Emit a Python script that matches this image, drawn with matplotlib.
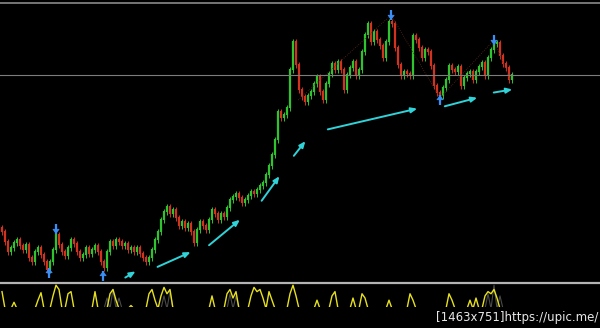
import numpy as np
import matplotlib
matplotlib.use("Agg")
import matplotlib.pyplot as plt

# closing prices, one bar every 3 px
closes = [
    68, 58, 48, 52, 57, 60, 54, 50, 55, 42, 38, 48, 52, 45, 38, 30, 38, 50,
    65, 55, 48, 44, 52, 60, 56, 48, 42, 45, 52, 46, 50, 54, 48, 38, 32, 48,
    58, 54, 60, 58, 54, 56, 50, 52, 48, 52, 46, 42, 38, 42, 50, 60, 68, 80,
    88, 93, 86, 90, 82, 74, 78, 72, 76, 68, 57, 70, 78, 74, 70, 80, 90, 86,
    80, 86, 83, 92, 100, 103, 106, 102, 97, 100, 104, 108, 106, 110, 114, 117,
    125, 134, 145, 160, 188, 182, 185, 192, 230, 258, 235, 210, 203, 198, 204,
    208, 216, 223, 208, 200, 216, 226, 236, 230, 238, 230, 210, 225, 232, 238,
    224, 230, 248, 265, 276, 258, 268, 260, 254, 242, 258, 278, 276, 252, 235,
    224, 228, 226, 224, 264, 260, 252, 242, 250, 248, 234, 214, 207, 204, 212,
    220, 234, 230, 228, 233, 214, 222, 226, 228, 220, 228, 233, 237, 224, 242,
    250, 256, 257, 244, 236, 232, 220, 225,
]

# swing signals (bar index, price at arrow tip)
up_bars = [15.7, 33.7, 146.0]
up_prices = [32, 29, 205]
down_bars = [18.0, 129.7, 164.0]
down_prices = [66, 280, 255]

# trend arrows: start/end bar and price
trend_x0 = [40.3, 51.0, 68.3, 86.0, 96.7, 107.7, 146.7, 163.0]
trend_x1 = [45.3, 63.7, 80.0, 93.0, 101.7, 139.3, 159.3, 171.0]
trend_y0 = [21, 32, 53, 97, 142, 170, 193, 207]
trend_y1 = [30, 49, 82, 126, 161, 192, 203, 211]

# zigzag swing points
zig_x = [98.7, 129.7, 146.0, 164.0, 169.3]
zig_y = [200, 285, 202, 260, 220]

level_price = 225

# oscillator spikes (bar index -> value)
osc_idx = [0, 4, 12, 13, 17, 18, 19, 22, 23, 31, 36, 37, 38, 43, 49, 50, 51,
           53, 54, 55, 56, 70, 75, 76, 77, 78, 83, 84, 85, 86, 87, 89, 90,
           96, 97, 98, 105, 110, 111, 117, 120, 121, 129, 136, 137, 149, 150,
           156, 158, 161, 162, 163, 164, 165]
osc_val = [16, 6, 8, 15, 12, 22, 18, 14, 16, 16, 14, 18, 8, 3, 14, 18, 8,
           12, 20, 14, 18, 12, 14, 18, 10, 16, 12, 20, 16, 18, 10, 16, 8,
           14, 22, 12, 8, 12, 16, 10, 14, 10, 8, 14, 8, 14, 8,
           8, 10, 12, 16, 14, 18, 10]

sig_idx = [33, 35, 37, 39, 41, 52, 54, 56, 58, 74, 76, 78, 80, 160, 162, 164, 166, 168]
sig_val = [0, 10, 18, 10, 0, 0, 12, 16, 0, 0, 14, 12, 0, 0, 14, 22, 12, 0]


def draw_signal(ax, bx, tip, tail):
    ax.plot([bx, bx], [tip, tail], color="#3a8ef5", lw=1.6, solid_capstyle="butt")
    ax.annotate("", xy=(bx, tip), xytext=(bx, tip + (tail - tip) * 0.45),
                arrowprops=dict(arrowstyle="-|>,head_width=0.22,head_length=0.3",
                                color="#3a8ef5", lw=0.5))


def draw_main(ax):
    n = len(closes)
    x = np.arange(n)
    opens = [closes[0] + 4] + closes[:-1]
    for i in range(n):
        o, c = opens[i], closes[i]
        color = "#2ec42e" if c >= o else "#d2321e"
        lo, hi = min(o, c), max(o, c)
        ax.vlines(x[i], lo - 3, hi + 3, color=color, lw=0.7)
        ax.vlines(x[i], lo, hi + 0.8, color=color, lw=1.6)

    ax.plot(zig_x, zig_y, color="#5a2a1a", lw=0.6, ls=":")
    ax.axhline(level_price, color="#7d7d7d", lw=0.8)
    ax.axhline(297, color="#8a8a8a", lw=1.2)

    for bx, by in zip(up_bars, up_prices):
        draw_signal(ax, bx, by, by - 10)
    for bx, by in zip(down_bars, down_prices):
        draw_signal(ax, bx, by, by + 10)

    for x0, y0, x1, y1 in zip(trend_x0, trend_y0, trend_x1, trend_y1):
        ax.annotate("", xy=(x1, y1), xytext=(x0, y0),
                    arrowprops=dict(arrowstyle="-|>,head_width=0.15,head_length=0.35",
                                    color="#2fd3d8", lw=1.4))

    ax.set_xlim(-2 / 3, 598 / 3)
    ax.set_ylim(18, 300)
    ax.set_facecolor("black")
    ax.axis("off")


def draw_oscillator(ax):
    n = len(closes)
    osc = np.zeros(n)
    osc[osc_idx] = osc_val
    sig = np.zeros(n)
    sig[sig_idx] = sig_val
    x = np.arange(n)
    ax.plot(x, sig, color="#4a4a4a", lw=0.8)
    ax.plot(x, osc, color="#e6e020", lw=1.0)
    ax.set_xlim(-2 / 3, 598 / 3)
    ax.set_ylim(1.6, 25)
    ax.set_facecolor("black")
    ax.axis("off")


def create_chart():
    fig = plt.figure(figsize=(6, 3.28), dpi=100, facecolor="black")
    ax_main = fig.add_axes([0, 46 / 328, 1, 282 / 328])
    ax_osc = fig.add_axes([0, 21 / 328, 1, 25 / 328])
    draw_main(ax_main)
    draw_oscillator(ax_osc)

    fig.add_artist(plt.Line2D([0, 1], [45.5 / 328, 45.5 / 328],
                              color="#b4b4b4", lw=1.6))
    fig.text(0.997, 0.012, "[1463x751]https://upic.me/", color="#e8e8e8",
             fontsize=8.5, ha="right", va="bottom")

    fig.savefig("out.png", dpi=100, facecolor="black")
    plt.close(fig)


if __name__ == "__main__":
    create_chart()
